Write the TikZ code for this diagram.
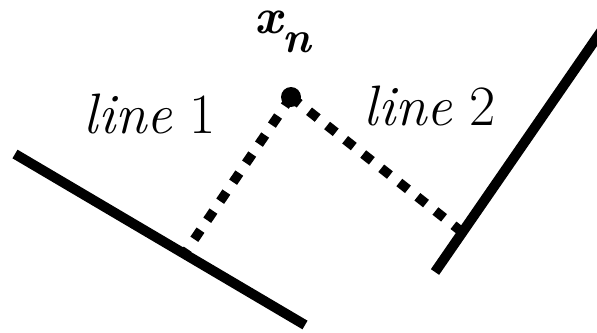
\documentclass[tikz,border=0pt]{standalone}
\usepackage{fontspec}
\tikzset{
  wall/.style={line width=10pt, black},
  perp/.style={line width=9.5pt, black, dash pattern=on 11pt off 12pt},
  pt/.style={circle, fill=black, inner sep=0pt, minimum size=20pt},
  lbl/.style={anchor=base, inner sep=0pt, font=\fontsize{57}{62}\selectfont},
  ptlbl/.style={anchor=base west, inner sep=0pt, font=\fontsize{50}{56}\selectfont\bfseries\itshape},
}
\begin{document}
\begin{tikzpicture}[x=1pt, y=-1pt]
\useasboundingbox (0,0) rectangle (597,332);

% ================= WALLS =================
\coordinate (l1a) at (15,154);
\coordinate (l1b) at (305,325);
\coordinate (l2a) at (435,272);
\coordinate (l2b) at (602,30);

% ================= POINT AND FEET =================
\node[pt] (xn) at (291,97) {};
\coordinate (f1) at (185,253);
\coordinate (f2) at (462,232);

\draw[perp] (xn.center) -- (f1);
\draw[perp] (xn.center) -- (f2);
\draw[wall] (l1a) -- (l1b);
\draw[wall] (l2a) -- (l2b);

% ================= LABELS =================
\node[ptlbl] (xlbl) at (254,33) {x\raisebox{-20pt}{\fontsize{44}{50}\selectfont n}};
\node[lbl] (lab1) at (150,133) {\textit{line} 1};
\node[lbl] (lab2) at (430,125) {\textit{line} 2};

\end{tikzpicture}
\end{document}
